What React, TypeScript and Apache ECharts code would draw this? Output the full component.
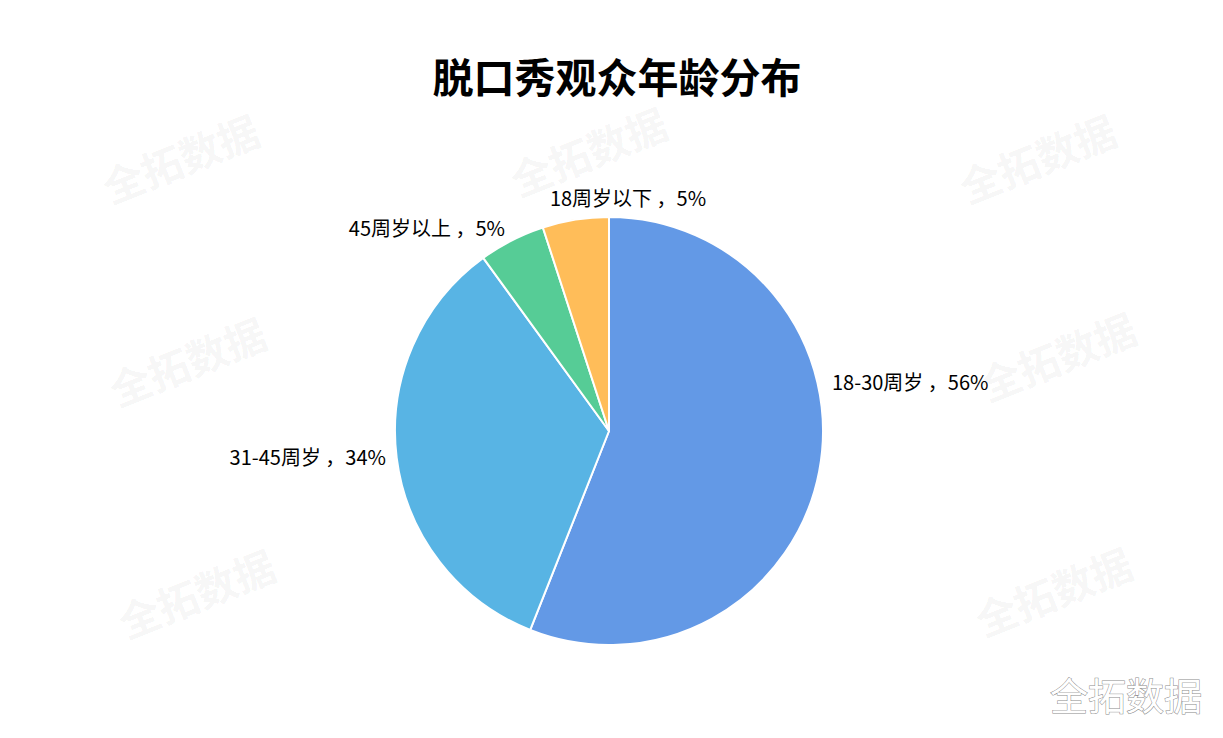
import React, { useEffect, useRef } from "react";
import * as echarts from "echarts";

const TITLE = "脱口秀观众年龄分布";
const categories = ["18-30周岁", "31-45周岁", "45周岁以上", "18周岁以下"];
const values = [56, 34, 5, 5];
const colors = ["#6399E6", "#58B4E4", "#56CC96", "#FFBD59"];
// label anchor positions (x, y, align) in px
const labelAnchors: [number, number, string][] = [
  [832, 381, "left"],
  [386, 456, "right"],
  [505, 227, "right"],
  [628, 197, "center"],
];
const WATERMARK = "全拓数据";
const watermarkSpots: [number, number][] = [
  [180, 157],
  [588, 150],
  [1037, 157],
  [187, 360],
  [1057, 355],
  [196, 592],
  [1053, 590],
];

const FONT = '"Noto Sans CJK SC", "Noto Sans", sans-serif';

export default function App() {
  const ref = useRef<HTMLDivElement>(null);
  useEffect(() => {
    document.body.style.margin = "0";
    const chart = echarts.init(ref.current!, null, { renderer: "svg" });
    const data = categories.map((name, i) => ({
      name,
      value: values[i],
      itemStyle: { color: colors[i] },
    }));
    chart.setOption({
      animation: false,
      backgroundColor: "#ffffff",
      title: {
        text: TITLE,
        left: 612,
        top: 49,
        textAlign: "center",
        textStyle: {
          fontSize: 41,
          fontWeight: "bold",
          color: "#000",
          fontFamily: FONT,
        },
      },
      graphic: [
        ...watermarkSpots.map(([x, y]) => ({
          type: "text",
          x,
          y,
          rotation: 0.38,
          z: -10,
          silent: true,
          style: {
            text: WATERMARK,
            fill: "rgba(0,0,0,0.055)",
            font: `bold 41px ${FONT}`,
            textAlign: "center",
            textVerticalAlign: "middle",
          },
        })),
        {
          type: "text",
          x: 1126,
          y: 693,
          z: 100,
          style: {
            text: WATERMARK,
            fill: "#ffffff",
            stroke: "#8a8a8a",
            lineWidth: 1,
            font: `38px ${FONT}`,
            textAlign: "center",
            textVerticalAlign: "middle",
          },
        },
      ],
      series: [
        {
          type: "pie",
          center: [609, 431],
          radius: 214,
          startAngle: 90,
          clockwise: true,
          data,
          itemStyle: { borderColor: "#ffffff", borderWidth: 2 },
          label: {
            show: true,
            formatter: (p: any) => `${p.name} ，${p.value}%`,
            color: "#000",
            fontSize: 20,
            fontFamily: FONT,
          },
          labelLine: { show: false },
          labelLayout: (p: any) => {
            const a = labelAnchors[p.dataIndex];
            return { x: a[0], y: a[1], align: a[2], verticalAlign: "middle" };
          },
        },
      ],
    });
    return () => chart.dispose();
  }, []);
  return (
    <div
      ref={ref}
      style={{ position: "absolute", left: 0, top: 0, width: 1223, height: 738 }}
    />
  );
}
